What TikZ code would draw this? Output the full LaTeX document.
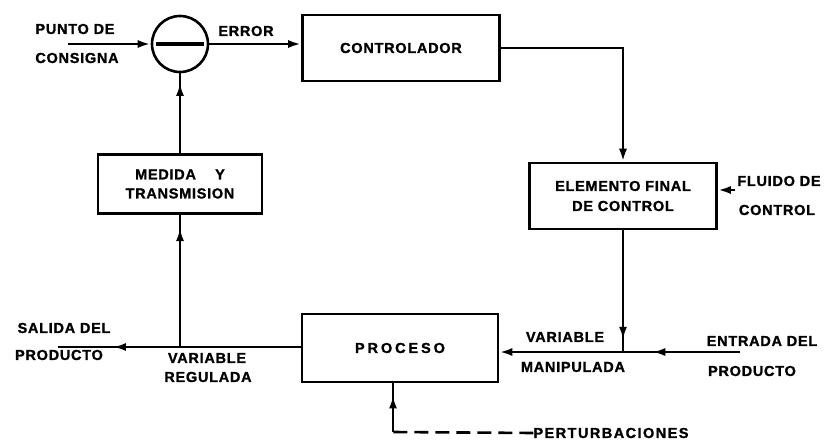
\documentclass[tikz,border=0pt]{standalone}
\usepackage{fontspec}
\newfontfamily\rotulo[LetterSpace=5, BoldFeatures={FakeBold=1.2}]{Liberation Sans}
\newfontfamily\rotuloancho[LetterSpace=20, BoldFeatures={FakeBold=1.2}]{Liberation Sans}
\newfontfamily\rotulomedio[LetterSpace=10, BoldFeatures={FakeBold=1.2}]{Liberation Sans}
\usepackage{tikz}
\usetikzlibrary{
	arrows.meta,
	positioning,
	decorations.markings
}

\begin{document}
\begin{tikzpicture}[
			x=1pt, y=-1pt,
			font=\rotulo\bfseries\fontsize{14.5}{18}\selectfont,
			>={Latex[length=13pt,width=8pt]},
			linea/.style={line width=2.6pt},
			fl/.style={linea, ->},
			flm/.style={linea, decoration={markings, mark=at position #1 with {\arrow{>}}}, postaction={decorate}},
			bloque/.style={draw, line width=2.6pt, minimum width=#1, minimum height=66pt, align=center, inner sep=2pt},
			etq/.style={inner sep=0pt, align=center}
		]
		\useasboundingbox (0,0) rectangle (829,444);

		% bloques
		\node[draw, circle, line width=2.6pt, minimum size=56pt, inner sep=0pt] (comp) at (180,44) {};
		\draw[line width=3.5pt] ([xshift=5pt]comp.west) -- ([xshift=-5pt]comp.east);
		\node[bloque=197pt] (ctrl) at (401,48) {CONTROLADOR};
		\node[bloque=187pt] (elem) at (623,196) {ELEMENTO FINAL\\[2pt]DE CONTROL};
		\node[bloque=164pt, minimum height=59pt] (medida) at (180,184) {MEDIDA\quad\ Y\\[1pt]TRANSMISION};
		\node[bloque=196pt, minimum height=68pt, font=\rotuloancho\bfseries\fontsize{14.5}{18}\selectfont] (proc) at (400,348) {PROCESO};

		% puntos de union
		\coordinate (cons) at (68,44);
		\coordinate (flu) at (735,190);
		\coordinate (ent) at (740,352);
		\coordinate (sal) at (58,347);
		\coordinate (jm) at (623,352);
		\coordinate (jr) at (medida.south |- sal);
		\coordinate (esq) at (393,432);

		% rotulos
		\node[etq] (pdc1) at (75,29) {PUNTO DE};
		\node[etq] (pdc2) at (77,58) {CONSIGNA};
		\node[etq] (err) at (246,31) {ERROR};
		\node[etq] (fdc1) at (779,181) {FLUIDO DE};
		\node[etq] (fdc2) at (777,210) {CONTROL};
		\node[etq] (vm1) at (565,337) {VARIABLE};
		\node[etq] (vm2) at (573,367) {MANIPULADA};
		\node[etq] (ed1) at (762,341) {ENTRADA DEL};
		\node[etq] (ed2) at (752,371) {PRODUCTO};
		\node[etq] (sd1) at (64,328) {SALIDA DEL};
		\node[etq] (sd2) at (59,355) {PRODUCTO};
		\node[etq] (vr1) at (207,358) {VARIABLE};
		\node[etq] (vr2) at (208,377) {REGULADA};
		\node[etq, font=\rotulomedio\bfseries\fontsize{14.5}{18}\selectfont] (pert) at (611,433) {PERTURBACIONES};

		% conexiones
		\draw[fl] (cons) -- (comp.west);
		\draw[fl] (comp.east) -- (comp.east -| ctrl.west);
		\draw[fl] (ctrl.east) -| (elem.north);
		\draw[fl] (flu) -- (flu -| elem.east);
		\draw[flm=0.75] (ent) -- (jm);
		\draw[flm=0.9] (elem.south) -- (jm);
		\draw[fl] (jm) -- (jm -| proc.east);
		\draw[linea] (jr -| proc.west) -- (jr);
		\draw[flm=0.55] (jr) -- (sal);
		\draw[flm=0.9] (jr) -- (medida.south);
		\draw[flm=0.88] (medida.north) -- (comp.south);
		\draw[linea, dash pattern=on 14pt off 7pt] (pert.west) -- (esq);
		\draw[flm=0.75] (esq) -- (esq |- proc.south);
	\end{tikzpicture}
\end{document}
